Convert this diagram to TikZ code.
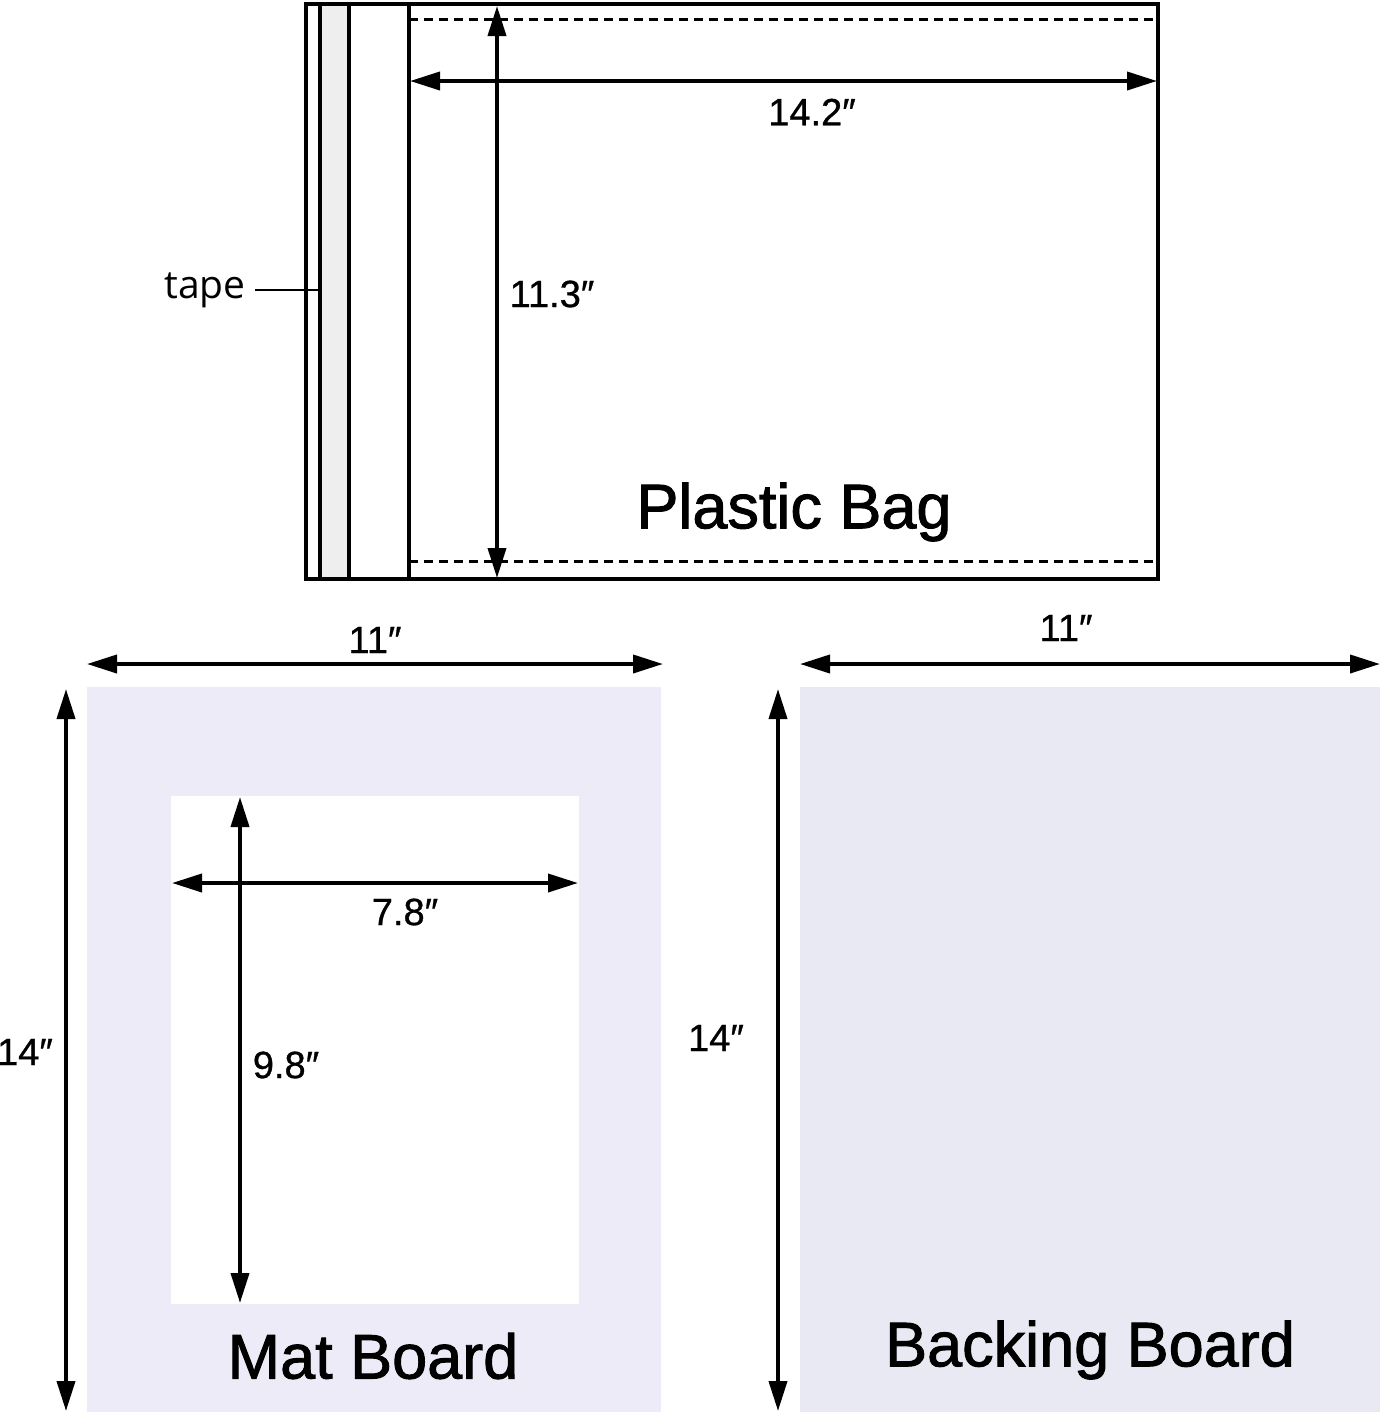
\documentclass[tikz,border=0pt]{standalone}
\usepackage{fontspec}
\setmainfont{Liberation Sans}
\newfontfamily\tapefont{Open Sans}
\newfontfamily\titlefont[FakeBold=1.5]{Liberation Sans}
\newfontfamily\labelfont[FakeBold=0.8]{Liberation Sans}
\usetikzlibrary{arrows.meta}
\definecolor{boardfill}{HTML}{ECEBF7}
\definecolor{backfill}{HTML}{E9E9F4}
\definecolor{tapegray}{HTML}{EEEEEE}
\tikzset{
  edge/.style={line width=1.9pt},
  dim/.style={line width=1.9pt,{Triangle[length=15pt,width=9pt]}-{Triangle[length=15pt,width=9pt]}},
  dimlabel/.style={font=\labelfont\fontsize{19pt}{21pt}\selectfont,inner sep=0pt},
  title/.style={font=\titlefont\fontsize{31.5pt}{36pt}\selectfont,inner sep=0pt},
  bagdash/.style={line width=1.5pt,dash pattern=on 4.5pt off 3pt},
}
\begin{document}
\begin{tikzpicture}[x=0.5pt,y=-0.5pt]
\useasboundingbox (0,0) rectangle (1383,1415);
% ---------- Plastic bag ----------
\fill[tapegray] (320,4) rectangle (349,579);
\draw[edge] (306,4) rectangle (1158,579);
\draw[edge] (320,4) -- (320,579);
\draw[edge] (349,4) -- (349,579);
\draw[edge] (409,4) -- (409,579);
\draw[bagdash] (409,19) -- (1158,19);
\draw[bagdash] (409,561) -- (1158,561);
\coordinate (bagL) at (410,81);
\coordinate (bagR) at (1157,81);
\coordinate (bagT) at (497,6);
\coordinate (bagB) at (497,578);
\draw[dim] (bagL) -- (bagR);
\draw[dim] (bagT) -- (bagB);
\node[dimlabel] (w142) at (812,112) {14.2″};
\node[dimlabel] (h113) at (552,294) {11.3″};
\node[title] (bagtitle) at (794,512) {Plastic Bag};
\node[font=\tapefont\fontsize{19.5pt}{21pt}\selectfont,inner sep=0pt,anchor=east] (tape) at (246,290) {tape};
\coordinate (tapeEnd) at (320,290);
\draw[line width=0.6pt] (255,290) -- (tapeEnd);
% ---------- Mat board ----------
\fill[boardfill] (87,687) rectangle (661,1412);
\fill[white] (171,796) rectangle (579,1304);
\coordinate (matL) at (87,664);
\coordinate (matR) at (663,664);
\coordinate (matT) at (66,689);
\coordinate (matB) at (66,1411);
\draw[dim] (matL) -- (matR);
\draw[dim] (matT) -- (matB);
\node[dimlabel] (mw) at (375,640) {11″};
\node[dimlabel] (mh) at (25,1052) {14″};
\coordinate (winL) at (172,883);
\coordinate (winR) at (578,883);
\coordinate (winT) at (240,797);
\coordinate (winB) at (240,1303);
\draw[dim] (winL) -- (winR);
\draw[dim] (winT) -- (winB);
\node[dimlabel] (ww) at (405,912) {7.8″};
\node[dimlabel] (wh) at (286,1065) {9.8″};
\node[title] (mattitle) at (373,1356) {Mat Board};
% ---------- Backing board ----------
\fill[backfill] (800,687) rectangle (1380,1412);
\coordinate (bkL) at (800,664);
\coordinate (bkR) at (1380,664);
\coordinate (bkT) at (778,689);
\coordinate (bkB) at (778,1411);
\draw[dim] (bkL) -- (bkR);
\draw[dim] (bkT) -- (bkB);
\node[dimlabel] (bw) at (1066,628) {11″};
\node[dimlabel] (bh) at (716,1038) {14″};
\node[title] (backtitle) at (1090,1350) {Backing Board};
\end{tikzpicture}
\end{document}
